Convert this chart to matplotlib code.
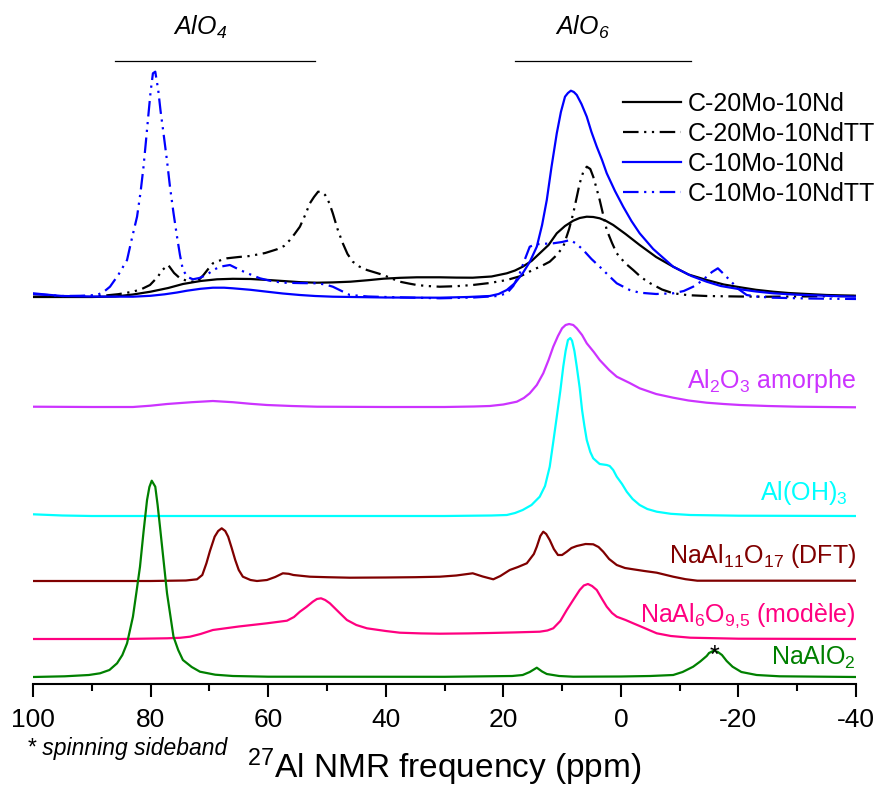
import matplotlib
matplotlib.use('Agg')
import matplotlib.pyplot as plt
from matplotlib.ticker import MultipleLocator

plt.rcParams['font.family'] = ['Liberation Sans', 'DejaVu Sans']
plt.rcParams['mathtext.default'] = 'regular'
plt.rcParams['axes.unicode_minus'] = False

# --- data (ppm, intensity above own baseline) ---
c20_ppm = [100, 90, 86, 83, 80, 77, 74.5, 71.5, 68.7, 66, 63, 60, 57.5, 54.5, 51.7, 49, 46,
           43, 40.4, 37.5, 34.7, 30.8, 28, 25.2, 22, 19.4, 18, 16.7, 15.2, 13.8, 12.3, 10.9,
           9.5, 8.1, 7, 5.8, 4.7, 3.6, 2.5, 1.3, -0.8, -3.2, -6, -8.9, -11.5, -14.6, -17.5,
           -20.3, -23, -25.9, -28.5, -31.7, -35, -39.8]
c20_int = [0, 0, 0.5, 2.5, 5.3, 9, 13, 16, 17.7, 18.2, 18, 17, 16, 14.8, 14.3, 14.6, 15.3,
           16.8, 18.3, 19.2, 19.7, 19.7, 19.4, 19.3, 20.5, 23.7, 26.5, 30.3, 36, 43.7, 52, 63.7,
           71, 76.3, 79, 80.3, 80, 78.7, 76, 72, 63, 52, 40, 30.3, 22.5, 17, 12.5,
           9.7, 7.2, 5.3, 4, 3, 2, 1.3]

c20tt_ppm = [100, 92, 88.6, 85.5, 83, 81.5, 80.1, 78.8, 78, 77, 76, 75, 73.5, 72.1, 71, 70.2,
             69.4, 68, 67, 65, 63.1, 60.5, 58.5, 57.3, 56.3, 55.5, 54.6, 53.7, 52.9, 52.2,
             51.5, 50.9, 50.3, 49.6, 49, 48.2, 47.3, 46.5, 45.6, 44.5, 43.2, 41.8, 40.4, 39,
             37.6, 36, 34.7, 33, 30.8, 28, 25.2, 22.3, 19.4, 17, 15, 13.5, 12.1, 10.9, 9.8,
             8.8, 8.1, 7.5, 7, 6.4, 5.8, 5.2, 4.7, 4.2, 3.6, 3, 2.4, 1.5, 0.7, -0.7, -2.1,
             -3.5, -5, -7, -8.9, -11.5, -14.6, -20, -25, -32, -40]
c20tt_int = [0.3, 0.5, 1, 2.8, 5.3, 8, 12, 20, 27, 32, 24, 18.7, 15.5, 15.3, 22, 28,
             33.7, 37, 38.7, 40, 41, 44, 47.7, 51, 57, 63, 70.3, 82, 93.7, 100,
             105.3, 105, 102, 94, 83.7, 68, 53.7, 43, 35.3, 30.5, 27, 24.5, 22, 18.5,
             15.3, 13.4, 12, 11, 10.3, 10.8, 12, 14, 17, 21, 27, 31, 35.3, 42, 50.3,
             68, 83.7, 100, 113.7, 125, 130.3, 128, 120.3, 110, 97, 82, 67, 54, 43.7, 34, 27,
             19.5, 13.7, 7.5, 3.7, 1.8, 1, 0.5, 0.3, 0.6, 1]

c10_ppm = [100, 97, 95, 90, 83, 80, 77.6, 75.5, 73.8, 71.5, 69.4, 67.5, 66, 63, 60.2, 57.5,
           54.6, 52, 49, 40, 30.8, 26, 22.3, 20.8, 19.4, 18, 16.7, 15.5, 14.3, 13.4, 12.6,
           11.8, 10.9, 10.2, 9.5, 9, 8.5, 8, 7.5, 6.7, 5.8, 5, 4.1, 3.2, 2.4, 1, -0.4, -1.8,
           -3.2, -5.5, -8.9, -12, -14.6, -17, -20.3, -23, -25.9, -30, -35, -39.8]
c10_int = [3.7, 2, 1, 0.5, 0.3, 1.2, 2.7, 4.5, 6.3, 8.2, 9.3, 9.3, 8.7, 7.2, 5.3, 3.5,
           2, 1, 0.3, -0.5, -0.7, 0, 1, 3, 7, 14, 23.7, 35, 50.3, 72, 97,
           130, 163.7, 185, 200.3, 204, 206.3, 205, 202, 193, 180.3, 165, 150.3, 137, 123.7,
           106, 90.3, 76, 63.7, 48, 30.3, 21, 15.3, 11, 7.7, 5.5, 3.7, 2.3, 1.2, 0.3]

c10tt_ppm = [100, 97, 95, 92, 89.1, 88, 86.9, 85.5, 84, 83.2, 82.3, 81.7, 81.2, 80.8, 80.4,
             80, 79.6, 79.2, 78.7, 78.3, 77.8, 77.2, 76.7, 76.1, 75.5, 75, 74.5, 73.7, 72.8,
             71.7, 70.5, 69.3, 68.2, 66.5, 64.8, 63, 61.4, 59.5, 57.5, 54.5, 51.7, 50.3, 49,
             47.5, 46.1, 43, 40, 30.8, 25, 21, 19.4, 18.3, 17.2, 16.5, 15.5, 14.6, 13.8, 11.5,
             10, 8.6, 7.5, 6.4, 5, 3.6, 2, 0.7, -1.5, -3.2, -6, -8.9, -10.7, -12.3, -13.5,
             -14.6, -15.5, -16.5, -17.5, -18.5, -20, -21.4, -23, -25.9, -32, -40]
c10tt_int = [3, 1.8, 1, 1.2, 2, 5, 10.3, 22, 37, 58, 80.3, 105, 130.3, 155, 180.3,
             205, 223.7, 225.3, 207, 186, 163.7, 136, 110.3, 84, 60.3, 42, 27, 20, 17.7,
             19, 22, 27, 30.3, 32, 27, 22.5, 18.7, 16, 14.3, 13.9, 13.7, 12.5, 10.3,
             6, 2, 0.5, 0, -1.3, -0.5, 1, 3.7, 11, 23.7, 35, 50.3, 52.5, 53, 53.7,
             55, 57, 53, 47, 38, 30.3, 21, 13.7, 7, 4.3, 3, 3.7, 6, 10.3, 15,
             20.3, 25, 28.7, 23, 17, 8, 2, 0.5, -0.7, -1.5, -2]

al2o3_ppm = [100, 90, 83, 80, 77.2, 73, 69.4, 66, 63, 60.2, 56, 51.7, 40, 30, 25, 22.3, 20,
             17.7, 16.5, 15.5, 14.3, 13.2, 12.3, 11.5, 10.7, 10, 9.4, 8.8, 8.1, 7.5, 6.6, 5.8,
             4.6, 3.6, 2, 0.7, -1.5, -3.2, -6, -8.9, -11.5, -14.6, -17.5, -20.3, -25, -30, -40]
al2o3_int = [0.3, 0, 0, 1.3, 3, 4.8, 6, 4.8, 3.2, 2, 1, 0.3, 0, 0, 0.5, 1, 2.5,
             5.3, 9, 13.7, 22, 33.7, 47, 60.3, 71, 78.7, 82, 83, 82, 78.7, 72, 63.7,
             55, 47, 37, 30.3, 24, 18.7, 13, 9.3, 6.5, 4.3, 3, 2, 1, 0.3, -0.3]

aloh_ppm = [100, 95, 90, 60, 30, 22, 19.4, 18, 16.7, 15.2, 13.8, 12.9, 12.1, 11.5, 10.9, 10.3,
            9.8, 9.4, 9, 8.6, 8.3, 7.9, 7.5, 7, 6.6, 6.2, 5.8, 5.2, 4.7, 4, 3.6, 2.4, 1.9, 1.3,
            0.7, -0.2, -1, -2, -3.2, -4.5, -6.1, -8.5, -11.8, -20, -40]
aloh_int = [1.7, 0.5, 0, 0, 0, 0.5, 1, 3, 6, 11, 19.3, 30, 49.3, 74, 99.3, 125,
            149.3, 165, 176, 178, 175.3, 165, 149.3, 128, 106, 90, 76, 64, 57.7, 54, 52, 51, 50, 46,
            39.3, 32, 24.3, 17, 11, 7, 4.3, 2.2, 1, 0.3, 0]

na11_ppm = [100, 80, 74, 72.1, 71.2, 70.5, 69.9, 69.1, 68.5, 67.9, 67.3, 66.8, 66.2, 65.6, 65,
            64.3, 63, 61.9, 60.2, 58.8, 57.5, 56.5, 55.7, 52.9, 50, 46.1, 40, 35, 30.8, 28,
            25.2, 23.5, 21.7, 20.5, 18.9, 17.5, 16, 14.8, 14.3, 13.7, 13.2, 12.7, 12.1, 11.4,
            10.7, 10, 9.2, 8.4, 7.5, 6, 4.7, 3.8, 3, 2, 0.7, -0.7, -2.1, -4, -6.1, -8.9, -11,
            -13, -20, -40]
na11_int = [0, 0, 0.5, 1.7, 6, 17.7, 30, 44.3, 50, 52.7, 50, 44.3, 33, 21, 11,
            4.3, 1, 0, 1, 4, 7.7, 7.2, 6, 4.3, 3.8, 3.3, 3.5, 3.8, 4.3, 5.5,
            7.7, 4.5, 1.7, 5, 11, 14, 17.7, 27, 34.3, 45, 49.3, 47, 41, 32,
            26, 26, 29.3, 33, 35, 37, 36.7, 34, 29.3, 22, 16, 13, 11.7, 10, 8.3, 4.3, 1.8,
            0.3, 0.3, 0.3]

na6_ppm = [100, 85, 77.2, 75, 73.3, 71.5, 69.4, 65, 60.2, 56.8, 55.6, 54.6, 53.5, 52.4, 51.7,
           51, 50.3, 49.5, 48, 46.6, 45, 43.2, 40, 37.6, 34, 30.8, 26, 22.3, 18, 13.8, 12.5,
           11.5, 10.3, 9.2, 8, 7, 6.3, 5.6, 4.9, 4.1, 3.2, 2.4, 1.5, 0.7, -0.8, -2.1, -4,
           -6.1, -8.5, -11.8, -20, -40]
na6_int = [0, 0, 0.7, 1.2, 2.3, 5, 9, 12.5, 15.7, 18.3, 22, 27.3, 32, 37.3, 40,
           40.7, 39, 35.7, 27, 19, 14, 10.7, 8, 6.3, 5.6, 5.3, 5.6, 6, 6.6, 7.3, 8.5,
           10.7, 18, 29, 40, 49, 53.5, 55, 53, 49, 40, 32.3, 26, 22.3, 19, 15.7, 11,
           5.7, 3, 1.3, 0.3, 0]

naalo2_ppm = [100, 94.6, 90.5, 88.6, 87, 85.7, 84.8, 84, 83, 82.4, 81.8, 81.2, 80.6, 80.2,
              79.8, 79.2, 78.8, 78.4, 77.8, 77.2, 76.6, 76.1, 75.3, 74.5, 73, 71.6, 69, 66,
              60, 30, 18.5, 16.7, 15.5, 14.3, 13.4, 12.6, 10.5, 8.1, 0, -5, -8.9, -10.5,
              -12.3, -13.5, -14.6, -15, -15.8, -16.5, -17.2, -18, -19, -20.5, -23.1, -27, -40]
naalo2_int = [0, 0.7, 2, 3.7, 7, 13.7, 22, 33.7, 60.3, 85, 110.3, 145, 177, 190,
              196.3, 190.3, 172, 150.3, 117, 83.7, 60, 40.3, 27, 17, 10, 5.3, 2.3, 1,
              0.3, 0.2, 1, 2, 5, 9.3, 5.5, 3, 1, 0.3, 0.5, 1, 2, 5,
              10.3, 15.5, 21, 24, 26.3, 25, 22, 16, 10.3, 5, 2, 0.7, 0]

top_labels = ['C-20Mo-10Nd', 'C-20Mo-10NdTT', 'C-10Mo-10Nd', 'C-10Mo-10NdTT']
ref_labels = [r'Al$_2$O$_3$ amorphe', r'Al(OH)$_3$', r'NaAl$_{11}$O$_{17}$ (DFT)',
              r'NaAl$_6$O$_{9{,}5}$ (modèle)', r'NaAlO$_2$']

# vertical offsets of each trace
top_off = 387
ref_off = [277, 168, 103, 45, 7]

fig = plt.figure(figsize=(8.8, 7.91), dpi=100)
ax = fig.add_axes([33 / 880, 1 - 684 / 791, 823 / 880, 684 / 791])

dashdotdot = (0, (7, 2.5, 1, 2.5, 1, 2.5))
lw = 1.6

ax.plot(c20_ppm, [v + top_off for v in c20_int], color='black', lw=lw, label=top_labels[0])
ax.plot(c20tt_ppm, [v + top_off for v in c20tt_int], color='black', lw=lw,
        linestyle=dashdotdot, label=top_labels[1])
ax.plot(c10_ppm, [v + top_off for v in c10_int], color='#0000ff', lw=lw, label=top_labels[2])
ax.plot(c10tt_ppm, [v + top_off for v in c10tt_int], color='#0000ff', lw=lw,
        linestyle=dashdotdot, label=top_labels[3])

refs = [(al2o3_ppm, al2o3_int, '#cc33ff'),
        (aloh_ppm, aloh_int, '#00ffff'),
        (na11_ppm, na11_int, '#800000'),
        (na6_ppm, na6_int, '#ff0080'),
        (naalo2_ppm, naalo2_int, '#008000')]
for (xs, ys, col), off in zip(refs, ref_off):
    ax.plot(xs, [v + off for v in ys], color=col, lw=lw)

# trace labels
lab_y = [296, 184, 121, 62, 19]
lab_x = [-40, -38.6, -40, -40, -40]
for txt, (xs, ys, col), lx, ly in zip(ref_labels, refs, lab_x, lab_y):
    ax.text(lx, ly, txt, color=col, fontsize=18, ha='right', va='baseline')
ax.text(-16, 21.5, '*', fontsize=18, ha='center', va='baseline')

# AlO4 / AlO6 region markers
ax.plot([86, 52], [623, 623], color='black', lw=0.9)
ax.plot([18, -12], [623, 623], color='black', lw=0.9)
ax.text(71.5, 657, r'AlO$_4$', style='italic', fontsize=18, ha='center', va='center')
ax.text(6.5, 657, r'AlO$_6$', style='italic', fontsize=18, ha='center', va='center')

ax.legend(loc='upper left', bbox_to_anchor=(623 / 880, 1 - 92 / 791),
          bbox_transform=fig.transFigure, frameon=False, fontsize=18,
          borderpad=0, borderaxespad=0, handlelength=2.3, handletextpad=0.3,
          labelspacing=0.24)

ax.set_xlim(100, -40)
ax.set_ylim(0, 684)
ax.xaxis.set_major_locator(MultipleLocator(20))
ax.xaxis.set_minor_locator(MultipleLocator(10))
ax.set_yticks([])
for s in ['left', 'right', 'top']:
    ax.spines[s].set_visible(False)
ax.spines['bottom'].set_linewidth(1.5)
ax.tick_params(axis='x', which='major', direction='out', length=9.5, width=1.5,
               labelsize=19, pad=8)
ax.tick_params(axis='x', which='minor', direction='out', length=5, width=1.5)
ax.set_xlabel(r'$^{27}$Al NMR frequency (ppm)', fontsize=24, labelpad=10)
ax.patch.set_visible(False)

fig.text(27 / 880, 1 - 755 / 791, '* spinning sideband', style='italic', fontsize=16.5,
         va='baseline')

fig.savefig('out.png', dpi=100)
